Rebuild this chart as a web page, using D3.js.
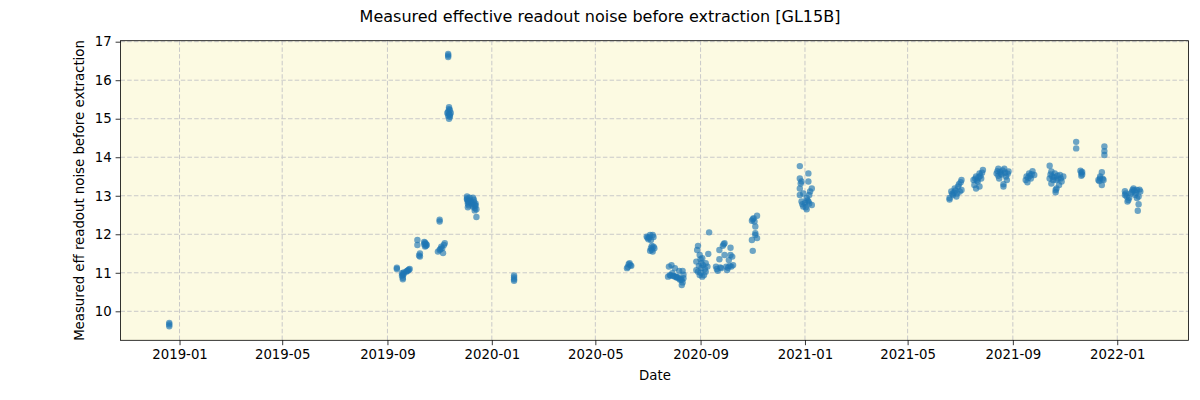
<!DOCTYPE html>
<html>
<head>
<meta charset="utf-8">
<script src="https://cdn.jsdelivr.net/npm/d3@7"></script>
<style>
  body { margin: 0; background: #fff; }
  svg text { font-family: "DejaVu Sans", sans-serif; fill: #000; }
</style>
</head>
<body>
<div id="chart"></div>
<script>
// measurements: [date, eff readout noise]
const obs2018 = [["2018-12-20", 9.70], ["2018-12-20", 9.66], ["2018-12-20", 9.61]]

const obs2019 = [
  ["2019-09-12", 11.13], ["2019-09-12", 11.10], ["2019-09-18", 10.99], ["2019-09-18", 10.92],
  ["2019-09-19", 10.95], ["2019-09-19", 10.87], ["2019-09-19", 10.83], ["2019-09-20", 11.01],
  ["2019-09-23", 11.03], ["2019-09-25", 11.06], ["2019-09-26", 11.08], ["2019-09-27", 11.10],
  ["2019-09-20", 10.97], ["2019-09-24", 11.05],
  ["2019-10-06", 11.85], ["2019-10-06", 11.72], ["2019-10-08", 11.45], ["2019-10-09", 11.50],
  ["2019-10-09", 11.42], ["2019-10-14", 11.80], ["2019-10-15", 11.78], ["2019-10-15", 11.68],
  ["2019-10-16", 11.75], ["2019-10-16", 11.70], ["2019-10-17", 11.72], ["2019-10-14", 11.74],
  ["2019-10-30", 11.55], ["2019-11-01", 11.59], ["2019-11-01", 12.38], ["2019-11-01", 12.33],
  ["2019-11-03", 11.68], ["2019-11-05", 11.51], ["2019-11-06", 11.72], ["2019-11-07", 11.77],
  ["2019-11-02", 11.62], ["2019-11-04", 11.64],
  ["2019-11-11", 16.68], ["2019-11-11", 16.64], ["2019-11-11", 16.60],
  ["2019-11-10", 15.15], ["2019-11-12", 15.30], ["2019-11-11", 15.08], ["2019-11-12", 15.12],
  ["2019-11-12", 15.00], ["2019-11-13", 15.22], ["2019-11-13", 15.05], ["2019-11-14", 15.15],
  ["2019-11-11", 15.18], ["2019-11-12", 15.25], ["2019-11-13", 15.10],
  ["2019-12-03", 12.98], ["2019-12-03", 12.90], ["2019-12-04", 12.85], ["2019-12-04", 12.80],
  ["2019-12-05", 12.75], ["2019-12-04", 12.70], ["2019-12-06", 12.95], ["2019-12-07", 12.88],
  ["2019-12-08", 12.82], ["2019-12-09", 12.78], ["2019-12-10", 12.72], ["2019-12-10", 12.95],
  ["2019-12-11", 12.90], ["2019-12-12", 12.68], ["2019-12-12", 12.62], ["2019-12-13", 12.75],
  ["2019-12-13", 12.80], ["2019-12-14", 12.65], ["2019-12-14", 12.45], ["2019-12-03", 12.93],
  ["2019-12-05", 12.86], ["2019-12-11", 12.84], ["2019-12-12", 12.76]
]

const obs2020 = [
  ["2020-01-27", 10.93], ["2020-01-27", 10.88], ["2020-01-27", 10.83], ["2020-01-27", 10.79],
  ["2020-06-07", 11.12], ["2020-06-08", 11.15], ["2020-06-09", 11.22], ["2020-06-10", 11.25],
  ["2020-06-11", 11.20], ["2020-06-12", 11.18],
  ["2020-06-30", 11.94], ["2020-07-04", 11.98], ["2020-07-07", 11.98], ["2020-07-02", 11.87],
  ["2020-07-05", 11.85], ["2020-07-05", 11.64], ["2020-07-09", 11.64], ["2020-07-04", 11.57],
  ["2020-07-07", 11.55], ["2020-07-06", 11.70], ["2020-07-01", 11.91], ["2020-07-03", 11.92],
  ["2020-07-08", 11.93], ["2020-07-06", 11.60], ["2020-07-08", 11.68],
  ["2020-07-25", 10.90], ["2020-07-26", 11.16], ["2020-07-27", 10.94], ["2020-07-29", 11.20],
  ["2020-07-30", 10.99], ["2020-07-31", 10.92], ["2020-08-02", 11.12], ["2020-08-03", 10.90],
  ["2020-08-04", 10.88], ["2020-08-06", 10.86], ["2020-08-07", 11.05], ["2020-08-08", 10.82],
  ["2020-08-10", 10.81], ["2020-08-11", 11.05], ["2020-08-12", 10.86], ["2020-08-11", 10.75],
  ["2020-08-10", 10.68], ["2020-08-12", 10.95], ["2020-07-28", 10.93], ["2020-08-01", 10.91],
  ["2020-08-05", 10.89], ["2020-08-09", 10.84],
  ["2020-08-27", 11.29], ["2020-08-27", 11.07], ["2020-08-28", 11.59], ["2020-08-29", 11.70],
  ["2020-08-29", 11.03], ["2020-08-31", 11.46], ["2020-08-31", 10.94], ["2020-09-02", 11.25],
  ["2020-09-02", 11.12], ["2020-09-03", 11.38], ["2020-09-03", 10.90], ["2020-09-05", 10.94],
  ["2020-09-07", 11.25], ["2020-09-07", 11.03], ["2020-09-09", 11.16], ["2020-09-10", 11.49],
  ["2020-09-11", 12.05], ["2020-08-30", 11.18], ["2020-09-01", 11.00], ["2020-09-04", 11.20],
  ["2020-09-06", 11.10], ["2020-09-01", 11.35],
  ["2020-09-19", 11.16], ["2020-09-21", 11.05], ["2020-09-23", 11.59], ["2020-09-23", 11.35],
  ["2020-09-25", 11.12], ["2020-09-27", 11.70], ["2020-09-29", 11.77], ["2020-09-29", 11.46],
  ["2020-10-01", 11.16], ["2020-10-02", 11.07], ["2020-10-04", 11.33], ["2020-10-06", 11.65],
  ["2020-10-06", 11.46], ["2020-10-07", 11.16], ["2020-10-09", 11.20], ["2020-09-20", 11.10],
  ["2020-09-24", 11.14], ["2020-09-28", 11.74], ["2020-10-03", 11.13], ["2020-10-05", 11.18],
  ["2020-10-08", 11.42],
  ["2020-10-31", 11.85], ["2020-11-01", 11.57], ["2020-10-31", 12.35], ["2020-11-01", 12.39],
  ["2020-11-03", 12.33], ["2020-11-04", 12.20], ["2020-11-04", 12.03], ["2020-11-04", 11.98],
  ["2020-11-06", 11.90], ["2020-11-06", 12.48], ["2020-11-02", 12.42],
  ["2020-12-26", 13.77], ["2020-12-26", 13.45], ["2020-12-26", 13.19], ["2020-12-26", 13.02],
  ["2020-12-28", 13.37], ["2020-12-28", 12.85], ["2020-12-30", 13.06], ["2020-12-30", 12.72],
  ["2020-12-27", 13.32], ["2020-12-29", 12.78]
]

const obs2021 = [
  ["2021-01-01", 12.81], ["2021-01-03", 12.94], ["2021-01-03", 12.65], ["2021-01-05", 13.58],
  ["2021-01-05", 13.37], ["2021-01-05", 12.85], ["2021-01-07", 13.11], ["2021-01-09", 13.19],
  ["2021-01-09", 12.76], ["2021-01-02", 12.70], ["2021-01-04", 12.88], ["2021-01-06", 13.02],
  ["2021-01-06", 12.80],
  ["2021-06-19", 12.94], ["2021-06-21", 13.11], ["2021-06-23", 13.02], ["2021-06-25", 13.19],
  ["2021-06-27", 12.98], ["2021-06-29", 13.24], ["2021-07-01", 13.11], ["2021-07-03", 13.41],
  ["2021-07-03", 13.15], ["2021-06-19", 12.90], ["2021-06-22", 13.05], ["2021-06-24", 13.08],
  ["2021-06-26", 13.14], ["2021-06-28", 13.06], ["2021-06-30", 13.30], ["2021-07-02", 13.35],
  ["2021-07-17", 13.41], ["2021-07-18", 13.28], ["2021-07-20", 13.50], ["2021-07-20", 13.19],
  ["2021-07-22", 13.37], ["2021-07-24", 13.58], ["2021-07-24", 13.24], ["2021-07-26", 13.45],
  ["2021-07-28", 13.67], ["2021-07-19", 13.44], ["2021-07-21", 13.40], ["2021-07-23", 13.48],
  ["2021-07-25", 13.52], ["2021-07-27", 13.60],
  ["2021-08-13", 13.58], ["2021-08-15", 13.70], ["2021-08-15", 13.52], ["2021-08-16", 13.45],
  ["2021-08-18", 13.58], ["2021-08-21", 13.24], ["2021-08-21", 13.30], ["2021-08-22", 13.70],
  ["2021-08-24", 13.50], ["2021-08-25", 13.41], ["2021-08-27", 13.63], ["2021-08-14", 13.64],
  ["2021-08-17", 13.62], ["2021-08-19", 13.55], ["2021-08-20", 13.66], ["2021-08-23", 13.60],
  ["2021-08-26", 13.57],
  ["2021-09-16", 13.41], ["2021-09-17", 13.50], ["2021-09-18", 13.35], ["2021-09-20", 13.58],
  ["2021-09-22", 13.45], ["2021-09-24", 13.64], ["2021-09-26", 13.54], ["2021-09-19", 13.47],
  ["2021-09-21", 13.52], ["2021-09-23", 13.56],
  ["2021-10-14", 13.78], ["2021-10-14", 13.45], ["2021-10-16", 13.63], ["2021-10-16", 13.32],
  ["2021-10-18", 13.41], ["2021-10-20", 13.58], ["2021-10-21", 13.09], ["2021-10-22", 13.41],
  ["2021-10-22", 13.19], ["2021-10-25", 13.28], ["2021-10-26", 13.54], ["2021-10-27", 13.45],
  ["2021-10-28", 13.37], ["2021-10-30", 13.50], ["2021-10-15", 13.55], ["2021-10-17", 13.50],
  ["2021-10-19", 13.48], ["2021-10-23", 13.52], ["2021-10-24", 13.44], ["2021-10-21", 13.15],
  ["2021-11-14", 14.40], ["2021-11-14", 14.23], ["2021-11-19", 13.65], ["2021-11-20", 13.60],
  ["2021-11-20", 13.52], ["2021-11-21", 13.55], ["2021-11-21", 13.62],
  ["2021-12-10", 13.41], ["2021-12-12", 13.50], ["2021-12-12", 13.45], ["2021-12-14", 13.61],
  ["2021-12-14", 13.28], ["2021-12-16", 13.41], ["2021-12-17", 14.28], ["2021-12-17", 14.16],
  ["2021-12-17", 14.06], ["2021-12-11", 13.38], ["2021-12-15", 13.44]
]

const obs2022 = [
  ["2022-01-10", 13.12], ["2022-01-10", 13.02], ["2022-01-12", 12.98], ["2022-01-13", 12.85],
  ["2022-01-14", 12.89], ["2022-01-17", 13.06], ["2022-01-19", 13.15], ["2022-01-20", 13.19],
  ["2022-01-22", 13.02], ["2022-01-24", 13.15], ["2022-01-24", 12.94], ["2022-01-26", 12.98],
  ["2022-01-26", 12.78], ["2022-01-25", 12.61], ["2022-01-28", 13.11], ["2022-01-11", 13.06],
  ["2022-01-15", 12.95], ["2022-01-18", 13.10], ["2022-01-21", 13.14], ["2022-01-23", 13.08],
  ["2022-01-27", 13.16]
]

const xTickLabels = ["2019-01", "2019-05", "2019-09", "2020-01", "2020-05", "2020-09",
  "2021-01", "2021-05", "2021-09", "2022-01"]
const yTickLabels = [10, 11, 12, 13, 14, 15, 16, 17]

const parse = d3.utcParse("%Y-%m-%d")
const data = [...obs2018, ...obs2019, ...obs2020, ...obs2021, ...obs2022]
  .map(d => ({ date: parse(d[0]), value: d[1] }))

const width = 1200
const height = 400
const plot = { left: 120.5, right: 1188.5, top: 40.7, bottom: 340.3 }

const svg = d3.select('#chart').append('svg')
  .attr('width', width).attr('height', height)

const xScale = d3.scaleUtc()
  .domain([new Date(Date.UTC(2018, 9, 24)), new Date(Date.UTC(2022, 2, 25, 7))])
  .range([plot.left, plot.right])
const yScale = d3.scaleLinear()
  .domain([9.247, 17.026])
  .range([plot.bottom, plot.top])

const xTicks = xTickLabels.map(d3.utcParse("%Y-%m"))

// achtergrond van plotgebied
svg.append('rect')
  .attr('x', plot.left).attr('y', plot.top)
  .attr('width', plot.right - plot.left).attr('height', plot.bottom - plot.top)
  .attr('fill', '#fcfae2')

// grid
const grid = svg.append('g')
  .attr('stroke', '#c9c9c9').attr('stroke-width', 1).attr('stroke-dasharray', '4.5,2.2')
grid.selectAll('.vx').data(xTicks).enter().append('line')
  .attr('x1', d => xScale(d)).attr('x2', d => xScale(d))
  .attr('y1', plot.top).attr('y2', plot.bottom)
grid.selectAll('.hy').data(yTickLabels).enter().append('line')
  .attr('x1', plot.left).attr('x2', plot.right)
  .attr('y1', d => yScale(d)).attr('y2', d => yScale(d))

// punten
svg.append('g').selectAll('circle').data(data)
  .enter().append('circle')
  .attr('cx', d => xScale(d.date))
  .attr('cy', d => yScale(d.value))
  .attr('r', 3.2)
  .attr('fill', '#1f77b4')
  .attr('fill-opacity', 0.65)

// assen
const xAxis = svg.append('g')
  .attr('transform', `translate(0, ${plot.bottom})`)
  .call(d3.axisBottom(xScale).tickValues(xTicks).tickFormat(d3.utcFormat("%Y-%m"))
    .tickSize(4.9).tickPadding(4).tickSizeOuter(0))
const yAxis = svg.append('g')
  .attr('transform', `translate(${plot.left}, 0)`)
  .call(d3.axisLeft(yScale).tickValues(yTickLabels).tickFormat(d3.format('d'))
    .tickSize(4.9).tickPadding(4).tickSizeOuter(0))
;[xAxis, yAxis].forEach(a => {
  a.select('.domain').remove()
  a.selectAll('line').attr('stroke', '#000').attr('stroke-width', 0.8)
  a.selectAll('text').attr('font-family', '"DejaVu Sans", sans-serif')
    .attr('font-size', '13.3px').attr('fill', '#000')
})

// kader
svg.append('rect')
  .attr('x', plot.left).attr('y', plot.top)
  .attr('width', plot.right - plot.left).attr('height', plot.bottom - plot.top)
  .attr('fill', 'none').attr('stroke', '#000').attr('stroke-width', 0.8)

// labels
svg.append('text')
  .attr('x', (plot.left + plot.right) / 2 + 0.5).attr('y', 380)
  .attr('text-anchor', 'middle').attr('font-size', '13.3px')
  .text('Date')
svg.append('text')
  .attr('transform', `translate(84, ${(plot.top + plot.bottom) / 2}) rotate(-90)`)
  .attr('text-anchor', 'middle').attr('font-size', '13.3px')
  .text('Measured eff readout noise before extraction')
svg.append('text')
  .attr('x', 600).attr('y', 22)
  .attr('text-anchor', 'middle').attr('font-size', '16px')
  .text('Measured effective readout noise before extraction [GL15B]')
</script>
</body>
</html>
